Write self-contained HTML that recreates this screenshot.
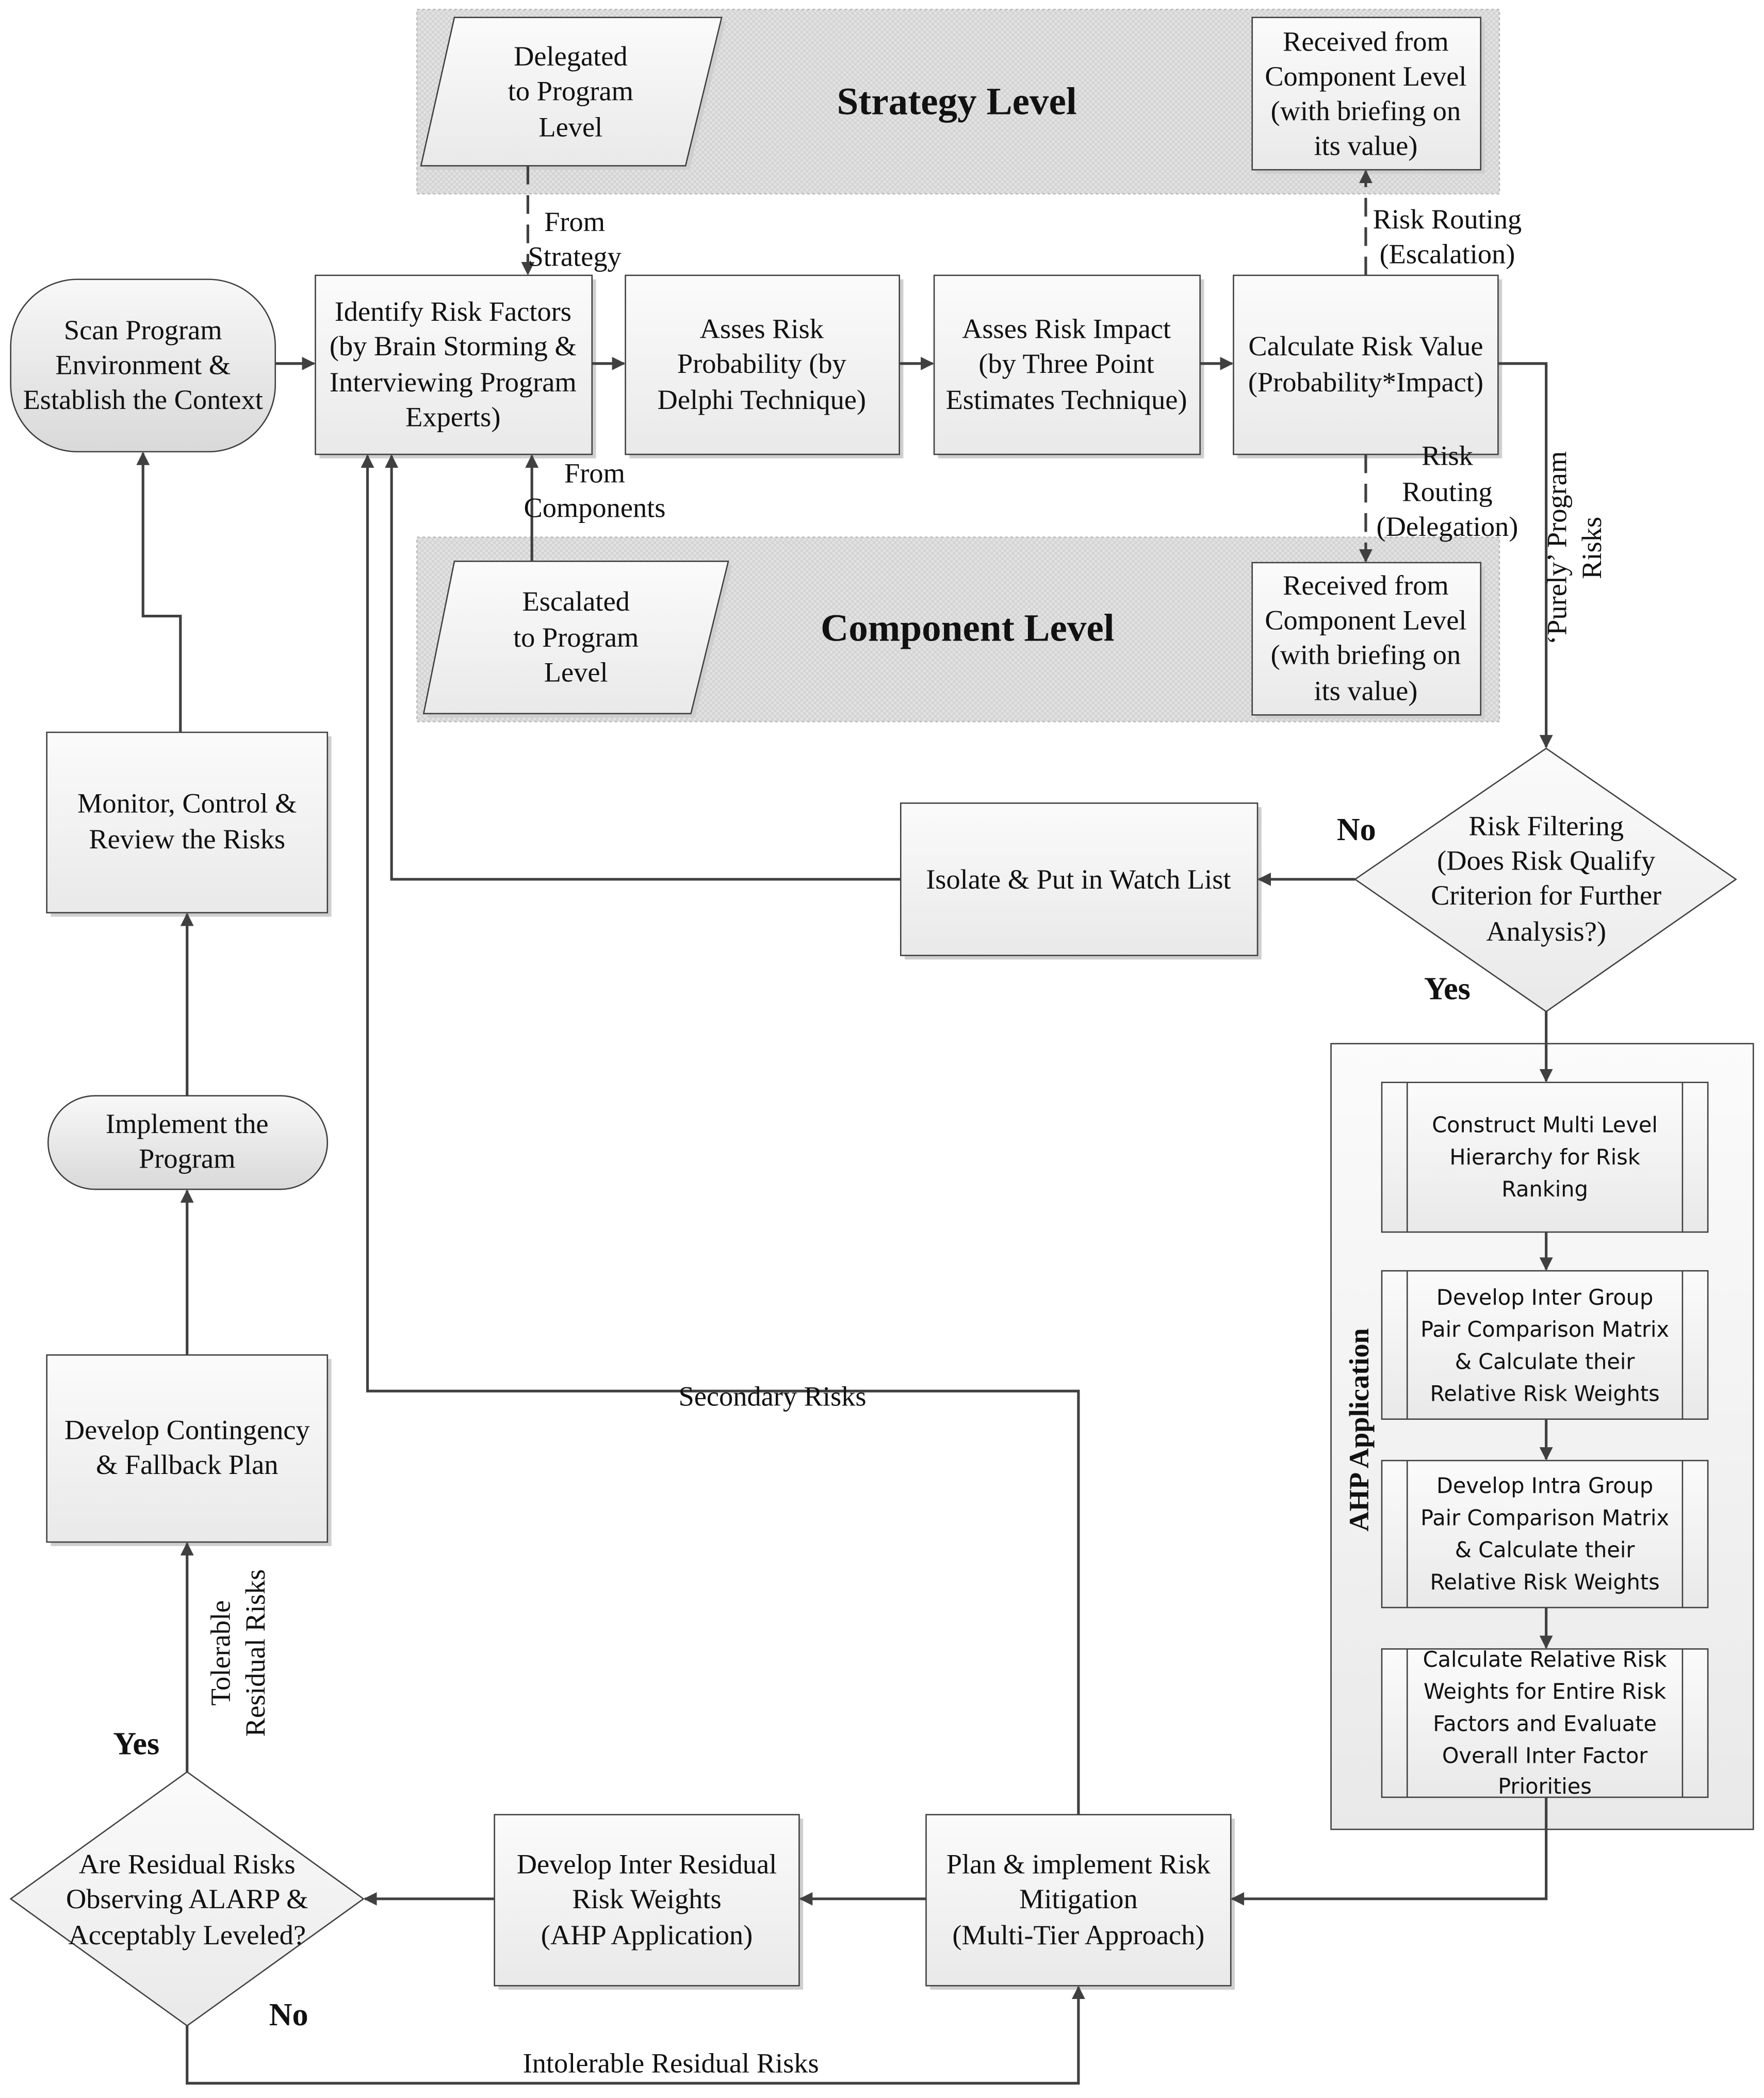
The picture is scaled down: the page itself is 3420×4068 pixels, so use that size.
<!DOCTYPE html>
<html><head><meta charset="utf-8"><style>html,body{margin:0;padding:0;background:#fff}svg{display:block}</style></head>
<body>
<svg width="3420" height="4068" viewBox="0 0 1320 1570" xmlns="http://www.w3.org/2000/svg" font-family="'Liberation Serif',serif" font-size="21" fill="#111">
<defs>
<linearGradient id="g" x1="0" y1="0" x2="0" y2="1"><stop offset="0" stop-color="#fbfbfb"/><stop offset="1" stop-color="#e9e9e9"/></linearGradient>
<linearGradient id="g2" x1="0" y1="0" x2="0" y2="1"><stop offset="0" stop-color="#f8f8f8"/><stop offset="1" stop-color="#d9d9d9"/></linearGradient>
<pattern id="hatch" width="4" height="4" patternUnits="userSpaceOnUse"><rect width="4" height="4" fill="#e2e2e2"/><path d="M0 0L4 4M4 0L0 4" stroke="#cfcfcf" stroke-width="0.6"/></pattern>
<marker id="a" markerWidth="10" markerHeight="10" refX="9" refY="5" orient="auto" markerUnits="userSpaceOnUse"><path d="M0 0L10 5L0 10z" fill="#404040"/></marker>
</defs>
<g stroke="#404040" stroke-width="1">
<!-- bands -->
<rect x="312" y="7" width="810" height="138" fill="url(#hatch)" stroke="#bbb" stroke-dasharray="2 2"/>
<rect x="312" y="402" width="810" height="138" fill="url(#hatch)" stroke="#bbb" stroke-dasharray="2 2"/>
<!-- shadows -->
<g fill="#cfcfcf" stroke="none">
<polygon points="343,16 543,16 516,127 318,127"/>
<polygon points="343,423 548,423 520,537 320,537"/>
<rect x="940" y="16" width="171" height="114"/><rect x="940" y="424" width="171" height="114"/>
<rect x="239" y="209" width="207" height="134"/><rect x="471" y="209" width="205" height="134"/>
<rect x="702" y="209" width="199" height="134"/><rect x="926" y="209" width="198" height="134"/>
<rect x="677" y="604" width="267" height="114"/><rect x="38" y="551" width="210" height="135"/>
<rect x="38" y="1017" width="210" height="140"/><rect x="373" y="1361" width="228" height="128"/>
<rect x="696" y="1361" width="228" height="128"/>
<rect x="1037" y="813" width="244" height="112"/><rect x="1037" y="954" width="244" height="111"/>
<rect x="1037" y="1096" width="244" height="110"/><rect x="1037" y="1237" width="244" height="111"/>
</g>
<polygon points="340,13 540,13 513,124 315,124" fill="url(#g)"/>
<polygon points="340,420 545,420 517,534 317,534" fill="url(#g)"/>
<rect x="937" y="13" width="171" height="114" fill="url(#g)"/>
<rect x="937" y="421" width="171" height="114" fill="url(#g)"/>
<rect x="8" y="209" width="198" height="129" rx="50" ry="50" fill="url(#g2)"/>
<rect x="236" y="206" width="207" height="134" fill="url(#g)"/>
<rect x="468" y="206" width="205" height="134" fill="url(#g)"/>
<rect x="699" y="206" width="199" height="134" fill="url(#g)"/>
<rect x="923" y="206" width="198" height="134" fill="url(#g)"/>
<polygon points="1157,560 1299,658 1157,757 1014,658" fill="url(#g)"/>
<rect x="674" y="601" width="267" height="114" fill="url(#g)"/>
<rect x="996" y="781" width="316" height="588" fill="url(#g)"/>
<rect x="1034" y="810" width="244" height="112" fill="url(#g)"/><path d="M1053 810V922M1259 810V922"/>
<rect x="1034" y="951" width="244" height="111" fill="url(#g)"/><path d="M1053 951V1062M1259 951V1062"/>
<rect x="1034" y="1093" width="244" height="110" fill="url(#g)"/><path d="M1053 1093V1203M1259 1093V1203"/>
<rect x="1034" y="1234" width="244" height="111" fill="url(#g)"/><path d="M1053 1234V1345M1259 1234V1345"/>
<rect x="693" y="1358" width="228" height="128" fill="url(#g)"/>
<rect x="370" y="1358" width="228" height="128" fill="url(#g)"/>
<polygon points="140,1326 272,1421 140,1516 8,1421" fill="url(#g)"/>
<rect x="35" y="1014" width="210" height="140" fill="url(#g)"/>
<rect x="36" y="820" width="209" height="70" rx="35" ry="35" fill="url(#g2)"/>
<rect x="35" y="548" width="210" height="135" fill="url(#g)"/>
</g>
<!-- connectors -->
<g stroke="#404040" stroke-width="2" fill="none">
<path d="M395 124V205" stroke-dasharray="14 8" marker-end="url(#a)"/>
<path d="M398 420V341" marker-end="url(#a)"/>
<path d="M1022 206V128" stroke-dasharray="14 8" marker-end="url(#a)"/>
<path d="M1022 340V420" stroke-dasharray="14 8" marker-end="url(#a)"/>
<path d="M206 272H235" marker-end="url(#a)"/>
<path d="M443 272H467" marker-end="url(#a)"/>
<path d="M673 272H698" marker-end="url(#a)"/>
<path d="M898 272H922" marker-end="url(#a)"/>
<path d="M1121 272H1157V559" marker-end="url(#a)"/>
<path d="M1014 658H942" marker-end="url(#a)"/>
<path d="M674 658H293V341" marker-end="url(#a)"/>
<path d="M1157 757V809" marker-end="url(#a)"/>
<path d="M1157 922V950" marker-end="url(#a)"/>
<path d="M1157 1062V1092" marker-end="url(#a)"/>
<path d="M1157 1203V1233" marker-end="url(#a)"/>
<path d="M1157 1345V1421H922" marker-end="url(#a)"/>
<path d="M693 1421H599" marker-end="url(#a)"/>
<path d="M370 1421H273" marker-end="url(#a)"/>
<path d="M140 1516V1559H807V1487" marker-end="url(#a)"/>
<path d="M807 1358V1041H275V341" marker-end="url(#a)"/>
<path d="M140 1326V1155" marker-end="url(#a)"/>
<path d="M140 1014V891" marker-end="url(#a)"/>
<path d="M140 820V684" marker-end="url(#a)"/>
<path d="M135 548V461H107V339" marker-end="url(#a)"/>
</g>
<!-- text -->
<g text-anchor="middle" dominant-baseline="central">
<text x="427" y="42">Delegated</text><text x="427" y="68">to Program</text><text x="427" y="95">Level</text>
<text x="716" y="76" font-weight="bold" font-size="29">Strategy Level</text>
<text x="1022" y="31">Received from</text><text x="1022" y="57">Component Level</text><text x="1022" y="83">(with briefing on</text><text x="1022" y="109">its value)</text>
<text x="431" y="450">Escalated</text><text x="431" y="477">to Program</text><text x="431" y="503">Level</text>
<text x="724" y="470" font-weight="bold" font-size="29">Component Level</text>
<text x="1022" y="438">Received from</text><text x="1022" y="464">Component Level</text><text x="1022" y="490">(with briefing on</text><text x="1022" y="517">its value)</text>
<text x="107" y="247">Scan Program</text><text x="107" y="273">Environment &amp;</text><text x="107" y="299">Establish the Context</text>
<text x="339" y="233">Identify Risk Factors</text><text x="339" y="259">(by Brain Storming &amp;</text><text x="339" y="286">Interviewing Program</text><text x="339" y="312">Experts)</text>
<text x="570" y="246">Asses Risk</text><text x="570" y="272">Probability (by</text><text x="570" y="299">Delphi Technique)</text>
<text x="798" y="246">Asses Risk Impact</text><text x="798" y="272">(by Three Point</text><text x="798" y="299">Estimates Technique)</text>
<text x="1022" y="259">Calculate Risk Value</text><text x="1022" y="286">(Probability*Impact)</text>
<text x="430" y="166">From</text><text x="430" y="192">Strategy</text>
<text x="445" y="354">From</text><text x="445" y="380">Components</text>
<text x="1083" y="164">Risk Routing</text><text x="1083" y="190">(Escalation)</text>
<text x="1083" y="341">Risk</text><text x="1083" y="368">Routing</text><text x="1083" y="394">(Delegation)</text>
<g transform="translate(1177,410) rotate(-90)"><text x="0" y="-12">‘Purely’ Program</text><text x="0" y="14">Risks</text></g>
<text x="1157" y="618">Risk Filtering</text><text x="1157" y="644">(Does Risk Qualify</text><text x="1157" y="670">Criterion for Further</text><text x="1157" y="697">Analysis?)</text>
<text x="1015" y="621" font-weight="bold" font-size="24">No</text>
<text x="1083" y="740" font-weight="bold" font-size="24">Yes</text>
<text x="807" y="658">Isolate &amp; Put in Watch List</text>
<text transform="translate(1017,1070) rotate(-90)" font-weight="bold" font-size="21">AHP Application</text>
<g font-family="'DejaVu Sans','Liberation Sans',sans-serif" font-size="16">
<text x="1156" y="842">Construct Multi Level</text><text x="1156" y="866">Hierarchy for Risk</text><text x="1156" y="890">Ranking</text>
<text x="1156" y="971">Develop Inter Group</text><text x="1156" y="995">Pair Comparison Matrix</text><text x="1156" y="1019">&amp; Calculate their</text><text x="1156" y="1043">Relative Risk Weights</text>
<text x="1156" y="1112">Develop Intra Group</text><text x="1156" y="1136">Pair Comparison Matrix</text><text x="1156" y="1160">&amp; Calculate their</text><text x="1156" y="1184">Relative Risk Weights</text>
<text x="1156" y="1242">Calculate Relative Risk</text><text x="1156" y="1266">Weights for Entire Risk</text><text x="1156" y="1290">Factors and Evaluate</text><text x="1156" y="1314">Overall Inter Factor</text><text x="1156" y="1337">Priorities</text>
</g>
<text x="807" y="1395">Plan &amp; implement Risk</text><text x="807" y="1421">Mitigation</text><text x="807" y="1448">(Multi-Tier Approach)</text>
<text x="484" y="1395">Develop Inter Residual</text><text x="484" y="1421">Risk Weights</text><text x="484" y="1448">(AHP Application)</text>
<text x="140" y="1395">Are Residual Risks</text><text x="140" y="1421">Observing ALARP &amp;</text><text x="140" y="1448">Acceptably Leveled?</text>
<text x="102" y="1305" font-weight="bold" font-size="24">Yes</text>
<text x="216" y="1508" font-weight="bold" font-size="24">No</text>
<text x="502" y="1544">Intolerable Residual Risks</text>
<text x="578" y="1045">Secondary Risks</text>
<g transform="translate(177,1237) rotate(-90)"><text x="0" y="-12">Tolerable</text><text x="0" y="14">Residual Risks</text></g>
<text x="140" y="1070">Develop Contingency</text><text x="140" y="1096">&amp; Fallback Plan</text>
<text x="140" y="841">Implement the</text><text x="140" y="867">Program</text>
<text x="140" y="601">Monitor, Control &amp;</text><text x="140" y="628">Review the Risks</text>
</g>
</svg>
</body></html>
